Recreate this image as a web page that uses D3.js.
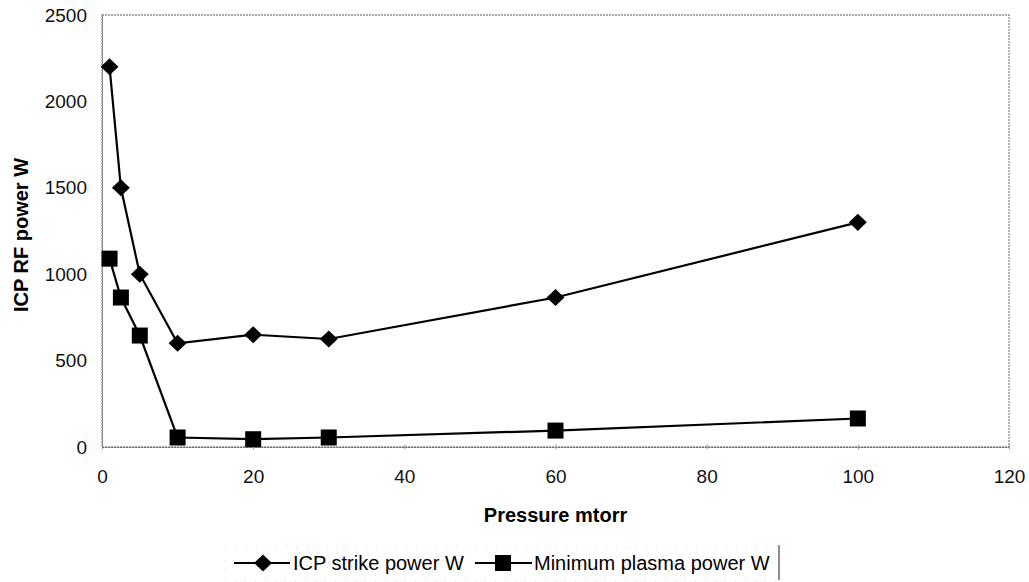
<!DOCTYPE html>
<html><head><meta charset="utf-8">
<script src="https://cdn.jsdelivr.net/npm/d3@7"></script>
<style>body{margin:0;background:#fff}svg{display:block}text{font-family:"Liberation Sans",Arial,sans-serif}</style>
</head><body>
<script>
const pressure = [1, 2.5, 5, 10, 20, 30, 60, 100];
const strikePower = [2200, 1500, 1000, 600, 650, 625, 865, 1300];
const minPower = [1090, 865, 645, 55, 45, 55, 95, 165];
const seriesNames = ["ICP strike power W", "Minimum plasma power W"];
const xTicks = [0, 20, 40, 60, 80, 100, 120];
const yTicks = [0, 500, 1000, 1500, 2000, 2500];

const W = 1029, H = 582;
const m = {left: 102, right: 1009, top: 15, bottom: 447};
const svg = d3.select("body").append("svg").attr("width", W).attr("height", H);
const x = d3.scaleLinear().domain([0, 120]).range([m.left, m.right]);
const y = d3.scaleLinear().domain([0, 2500]).range([m.bottom, m.top]);

const diamondType = {draw(ctx, size) { const r = Math.sqrt(size) / 2;
  ctx.moveTo(0, -r); ctx.lineTo(r * 1.05, 0); ctx.lineTo(0, r); ctx.lineTo(-r * 1.05, 0); ctx.closePath(); }};
const diamond = d3.symbol().type(diamondType).size(290);
const sq = 16;

// plot border
svg.append("rect").attr("x", m.left).attr("y", m.top).attr("width", m.right - m.left).attr("height", m.bottom - m.top)
  .attr("fill", "none").attr("stroke", "#8a8a8a").attr("stroke-width", 1.3).attr("stroke-dasharray", "2,1");

const xa = svg.append("g").attr("transform", `translate(0,${m.bottom})`)
  .call(d3.axisBottom(x).tickValues(xTicks).tickFormat(d3.format("d")).tickSizeInner(5).tickSizeOuter(0).tickPadding(18));
xa.select(".domain").attr("stroke", "#666").attr("stroke-dasharray", "2,1");
xa.selectAll(".tick line").attr("stroke", "#999").attr("transform", "translate(0,-2.5)");
xa.selectAll("text").attr("font-size", 19).attr("fill", "#111").attr("font-family", "Liberation Sans, Arial");

const ya = svg.append("g").attr("transform", `translate(${m.left},0)`)
  .call(d3.axisLeft(y).tickValues(yTicks).tickFormat(d3.format("d")).tickSize(0).tickPadding(15));
ya.select(".domain").attr("stroke", "#777").attr("stroke-dasharray", "2,1");
ya.selectAll("text").attr("font-size", 19).attr("fill", "#111").attr("font-family", "Liberation Sans, Arial");

svg.append("text").attr("x", (m.left + m.right) / 2).attr("y", 522).attr("text-anchor", "middle")
  .attr("font-size", 20).attr("font-weight", "bold").text("Pressure mtorr");
svg.append("text").attr("transform", "translate(28,235) rotate(-90)").attr("text-anchor", "middle")
  .attr("font-size", 20).attr("font-weight", "bold").text("ICP RF power W");

const line = d3.line().x(d => x(d[0])).y(d => y(d[1]));
const s1 = pressure.map((p, i) => [p, strikePower[i]]);
const s2 = pressure.map((p, i) => [p, minPower[i]]);

svg.append("path").datum(s1).attr("d", line).attr("fill", "none").attr("stroke", "#000").attr("stroke-width", 2.2);
svg.append("path").datum(s2).attr("d", line).attr("fill", "none").attr("stroke", "#000").attr("stroke-width", 2.2);

svg.selectAll(".dia").data(s1).join("path").attr("class", "dia")
  .attr("transform", d => `translate(${x(d[0])},${y(d[1])})`).attr("d", diamond).attr("fill", "#000");
svg.selectAll(".sq").data(s2).join("rect").attr("class", "sq")
  .attr("x", d => x(d[0]) - sq / 2).attr("y", d => y(d[1]) - sq / 2).attr("width", sq).attr("height", sq).attr("fill", "#000");

// legend
const lg = svg.append("g");
lg.append("rect").attr("x", 226).attr("y", 547).attr("width", 553).attr("height", 34)
  .attr("fill", "none").attr("stroke", "#ccc").attr("stroke-width", 0.8).attr("stroke-dasharray", "1,9");
lg.append("line").attr("x1", 779).attr("x2", 779).attr("y1", 545).attr("y2", 580).attr("stroke", "#444").attr("stroke-width", 1.2);
lg.append("line").attr("x1", 234).attr("x2", 290).attr("y1", 563).attr("y2", 563).attr("stroke", "#000").attr("stroke-width", 2.2);
lg.append("path").attr("transform", "translate(263,563)").attr("d", diamond).attr("fill", "#000");
lg.append("text").attr("x", 293).attr("y", 570).attr("font-size", 20).text(seriesNames[0]);
lg.append("line").attr("x1", 475).attr("x2", 532).attr("y1", 563).attr("y2", 563).attr("stroke", "#000").attr("stroke-width", 2.2);
lg.append("rect").attr("x", 503 - sq / 2).attr("y", 563 - sq / 2).attr("width", sq).attr("height", sq).attr("fill", "#000");
lg.append("text").attr("x", 534).attr("y", 570).attr("font-size", 20).text(seriesNames[1]);
</script>
</body></html>
